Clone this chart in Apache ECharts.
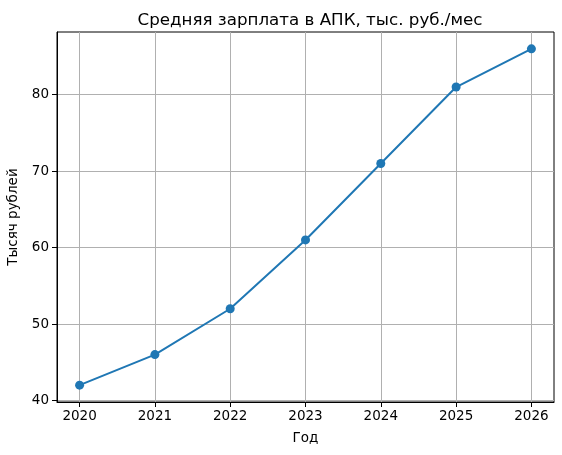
<!DOCTYPE html>
<html><head><meta charset="utf-8">
<script src="https://cdn.jsdelivr.net/npm/echarts@6/dist/echarts.min.js"></script>
<style>html,body{margin:0;padding:0;background:#fff}#c{width:562px;height:455px}</style>
</head><body><div id="c"></div>
<script>
const years = [2020, 2021, 2022, 2023, 2024, 2025, 2026];
const salary = [42, 46, 52, 61, 71, 81, 86];
const yTicks = [40, 50, 60, 70, 80];
const titleText = 'Средняя зарплата в АПК, тыс. руб./мес';
const xName = 'Год';
const yName = 'Тысяч рублей';

const font = 'DejaVu Sans';
const chart = echarts.init(document.getElementById('c'), null, {renderer: 'canvas'});
const lo = Math.min(...salary), hi = Math.max(...salary), m = (hi - lo) * 0.05;
const xlo = Math.min(...years), xhi = Math.max(...years), xm = (xhi - xlo) * 0.05;
chart.setOption({
  animation: false,
  title: {text: titleText, left: 305, top: 7, textAlign: 'center',
    textStyle: {fontFamily: font, fontSize: 16.7, fontWeight: 'normal', color: '#000'}},
  grid: {left: 57, right: 8, top: 32, bottom: 53, show: true, borderColor: '#000', borderWidth: 1,
    backgroundColor: 'transparent', containLabel: false, outerBoundsMode: 'none'},
  xAxis: {type: 'value', min: xlo - xm, max: xhi + xm,
    name: xName, nameLocation: 'middle', nameGap: 29,
    nameTextStyle: {fontFamily: font, fontSize: 13.5, color: '#000'},
    axisLine: {show: true, lineStyle: {color: '#000', width: 1}},
    axisTick: {show: true, length: 5, lineStyle: {color: '#000', width: 1}, customValues: years},
    axisLabel: {customValues: years, fontFamily: font, fontSize: 13.5, color: '#000', margin: 7, formatter: v => String(v)},
    splitLine: {show: true, lineStyle: {color: '#b0b0b0', width: 1}}},
  yAxis: {type: 'value', min: lo - m, max: hi + m,
    name: yName, nameLocation: 'middle', nameGap: 35,
    nameTextStyle: {fontFamily: font, fontSize: 13.5, color: '#000'},
    axisLine: {show: true, lineStyle: {color: '#000', width: 1}},
    axisTick: {show: true, length: 5, lineStyle: {color: '#000', width: 1}, customValues: yTicks},
    axisLabel: {customValues: yTicks, fontFamily: font, fontSize: 13.5, color: '#000', margin: 8},
    splitLine: {show: true, lineStyle: {color: '#b0b0b0', width: 1}}},
  series: [{type: 'line', data: years.map((y, i) => [y, salary[i]]),
    symbol: 'circle', symbolSize: 9, showSymbol: true,
    lineStyle: {color: '#1f77b4', width: 2}, itemStyle: {color: '#1f77b4'}}]
});
</script></body></html>
